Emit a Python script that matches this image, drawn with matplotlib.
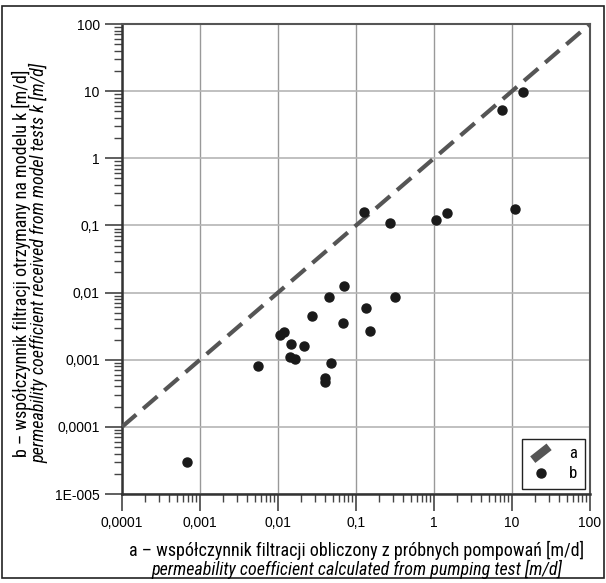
import matplotlib
matplotlib.use("Agg")
import matplotlib.pyplot as plt
from matplotlib import font_manager
from matplotlib.lines import Line2D
from matplotlib.legend_handler import HandlerBase
from matplotlib.patches import Rectangle
from matplotlib.ticker import FixedLocator, LogLocator, NullFormatter

# measured points: pumping test k (x) vs model k (y), m/d
k_pumping = [0.00068, 0.0055, 0.0107, 0.0118, 0.0144, 0.0147, 0.0167, 0.0218,
             0.0275, 0.0395, 0.0401, 0.045, 0.0474, 0.0675, 0.0695, 0.128,
             0.135, 0.152, 0.275, 0.313, 1.05, 1.47, 7.5, 10.8, 13.8]
k_model = [3.0e-5, 0.00081, 0.00231, 0.00256, 0.00111, 0.00171, 0.00101, 0.0016,
           0.00453, 0.00047, 0.00053, 0.0085, 0.00088, 0.00348, 0.01265, 0.157,
           0.00596, 0.00267, 0.108, 0.0085, 0.119, 0.155, 5.3, 0.176, 9.8]

line_x = [0.0001, 100]
line_y = [0.0001, 100]

x_ticks = [1e-4, 1e-3, 1e-2, 1e-1, 1, 10, 100]
x_labels = ["0,0001", "0,001", "0,01", "0,1", "1", "10", "100"]
y_ticks = [1e-5, 1e-4, 1e-3, 1e-2, 1e-1, 1, 10, 100]
y_labels = ["1E-005", "0,0001", "0,001", "0,01", "0,1", "1", "10", "100"]

tick_font = "Liberation Sans"

# narrow face for the axis titles if there is one
names = {f.name for f in font_manager.fontManager.ttflist}
label_font = "Liberation Sans"
for cand in ["Liberation Sans Narrow", "DejaVu Sans Condensed", "Roboto Condensed"]:
    if cand in names:
        label_font = cand
        break


class DiagonalHandler(HandlerBase):
    def create_artists(self, legend, orig_handle, xdescent, ydescent,
                       width, height, fontsize, trans):
        ln = Line2D([xdescent + width * 0.15, xdescent + width * 0.85],
                    [ydescent - height * 0.1, ydescent + height * 1.0],
                    color="#555555", lw=6, solid_capstyle="butt",
                    transform=trans)
        return [ln]


fig = plt.figure(figsize=(6.06, 5.83), dpi=100)
ax = fig.add_axes([122 / 606, 1 - 494 / 583, 468 / 606, 470 / 583])

ax.set_xscale("log")
ax.set_yscale("log")
ax.set_xlim(1e-4, 100)
ax.set_ylim(1e-5, 100)

ax.xaxis.grid(True, which="major", color="#999999", lw=1.0)
ax.yaxis.grid(True, which="major", color="#b5b5b5", lw=1.2)
ax.set_axisbelow(True)

dash, = ax.plot(line_x, line_y, color="#555555", lw=3, dashes=(4.5, 2.2),
                zorder=3)
pts, = ax.plot(k_pumping, k_model, "o", color="#1a1a1a", ms=6.5,
               linestyle="none", zorder=4)

ax.xaxis.set_major_locator(FixedLocator(x_ticks))
ax.yaxis.set_major_locator(FixedLocator(y_ticks))
ax.set_xticklabels(x_labels, fontname=tick_font, fontsize=10)
ax.set_yticklabels(y_labels, fontname=tick_font, fontsize=10)
ax.xaxis.set_minor_locator(LogLocator(base=10, subs=range(2, 10), numticks=20))
ax.yaxis.set_minor_locator(LogLocator(base=10, subs=range(2, 10), numticks=20))
ax.xaxis.set_minor_formatter(NullFormatter())
ax.yaxis.set_minor_formatter(NullFormatter())
ax.tick_params(which="major", length=12, width=1.2, color="#444444", pad=4)
ax.tick_params(which="minor", length=6, width=1.0, color="#444444")

for side in ["left", "bottom"]:
    ax.spines[side].set_linewidth(1.8)
    ax.spines[side].set_color("#333333")
for side in ["top", "right"]:
    ax.spines[side].set_linewidth(1.5)
    ax.spines[side].set_color("#555555")

fig.text(357 / 606, 1 - 550 / 583,
         "a \u2013 współczynnik filtracji obliczony z próbnych pompowań [m/d]",
         family=label_font, fontsize=13, ha="center", va="center")
fig.text(357 / 606, 1 - 569 / 583,
         "permeability coefficient calculated from pumping test [m/d]",
         family=label_font, style="italic", fontsize=13,
         ha="center", va="center")
fig.text(21 / 606, 1 - 263 / 583,
         "b \u2013 współczynnik filtracji otrzymany na modelu k [m/d]",
         family=label_font, fontsize=13,
         ha="center", va="center", rotation=90)
fig.text(39 / 606, 1 - 263 / 583,
         "permeability coefficient received from model tests k [m/d]",
         family=label_font, style="italic", fontsize=13,
         ha="center", va="center", rotation=90)

leg = ax.legend([dash, pts], ["a", "b"], loc="lower right",
                handler_map={dash: DiagonalHandler()},
                prop={"family": label_font, "size": 12},
                fancybox=False, edgecolor="#222222", framealpha=1,
                handlelength=1.4, borderaxespad=0.3, labelspacing=0.3,
                handletextpad=1.0, borderpad=0.45)
leg.get_frame().set_linewidth(1.0)

fig.patches.append(Rectangle((0.004, 0.008), 0.992, 0.982, fill=False,
                             edgecolor="#222222", lw=1.2,
                             transform=fig.transFigure, figure=fig))

fig.savefig("out.png", dpi=100)
